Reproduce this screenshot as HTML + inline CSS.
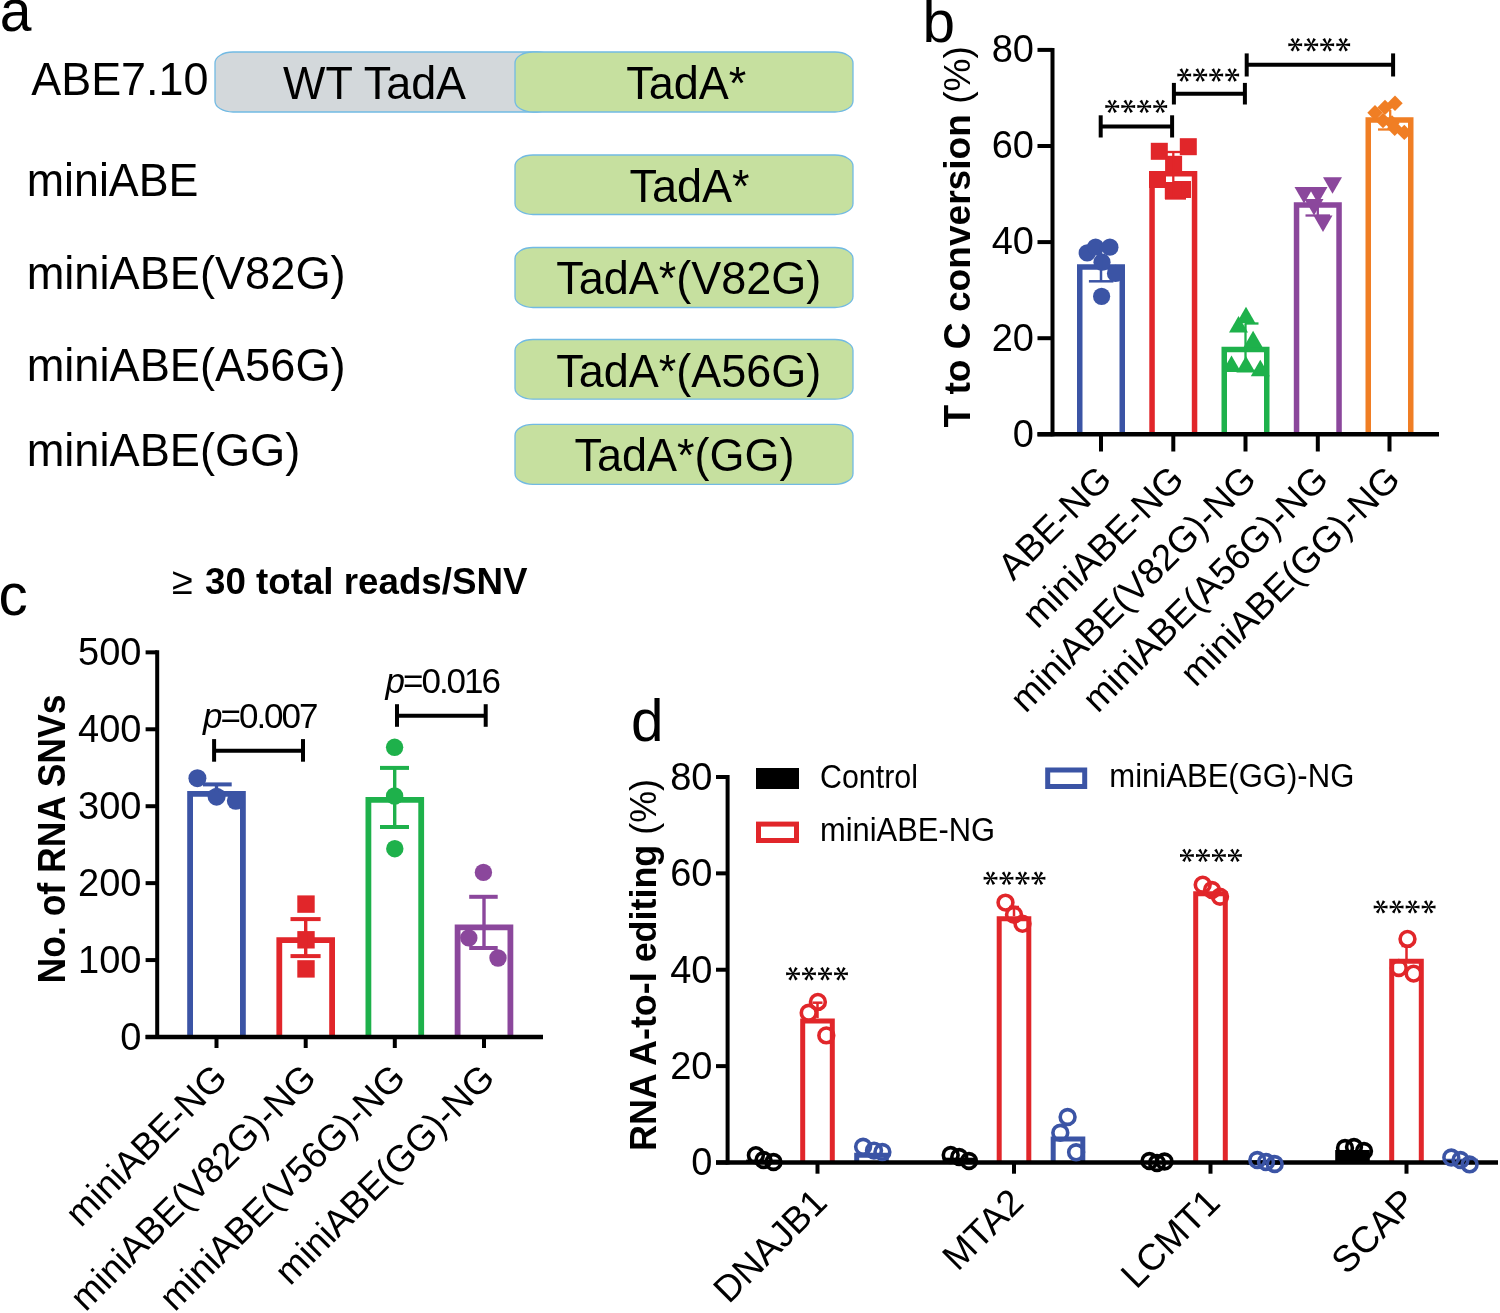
<!DOCTYPE html>
<html><head><meta charset="utf-8"><style>
html,body{margin:0;padding:0;background:#fff;}
svg{display:block;font-family:"Liberation Sans",sans-serif;will-change:transform;}
</style></head><body>
<svg width="1500" height="1313" viewBox="0 0 1500 1313" font-family="Liberation Sans, sans-serif">
<rect width="1500" height="1313" fill="#fff"/>
<text transform="translate(-0.3,31.4) scale(1,1.03)" font-size="57" text-anchor="start" fill="#000">a</text>
<text transform="translate(31.3,95) scale(1,1.05)" font-size="44.9" text-anchor="start" fill="#000">ABE7.10</text>
<rect x="215" y="52" width="340" height="60" fill="#d3d8db" stroke="#72bae3" stroke-width="1.3" rx="18" ry="11"/>
<text transform="translate(283.1,98.7) scale(1,1.02)" font-size="44.9" text-anchor="start" fill="#000">WT TadA</text>
<rect x="515" y="52" width="338" height="60" fill="#c6e09f" stroke="#72bae3" stroke-width="1.3" rx="18" ry="11"/>
<rect x="515" y="155" width="338" height="59.5" fill="#c6e09f" stroke="#72bae3" stroke-width="1.3" rx="18" ry="11"/>
<rect x="515" y="247.5" width="338" height="60" fill="#c6e09f" stroke="#72bae3" stroke-width="1.3" rx="18" ry="11"/>
<rect x="515" y="339.5" width="338" height="59.7" fill="#c6e09f" stroke="#72bae3" stroke-width="1.3" rx="18" ry="11"/>
<rect x="515" y="424.4" width="338" height="60" fill="#c6e09f" stroke="#72bae3" stroke-width="1.3" rx="18" ry="11"/>
<text transform="translate(626.2,98.7) scale(1,1.02)" font-size="45" text-anchor="start" fill="#000">TadA*</text>
<text transform="translate(629.4,201.8) scale(1,1.02)" font-size="45" text-anchor="start" fill="#000">TadA*</text>
<text transform="translate(556.2,294.4) scale(1,1.02)" font-size="45" text-anchor="start" fill="#000">TadA*(V82G)</text>
<text transform="translate(556.2,386.5) scale(1,1.02)" font-size="45" text-anchor="start" fill="#000">TadA*(A56G)</text>
<text transform="translate(574.4,471.1) scale(1,1.02)" font-size="45" text-anchor="start" fill="#000">TadA*(GG)</text>
<text transform="translate(26.688000000000002,196.4) scale(1,1.02)" font-size="44.8" text-anchor="start" fill="#000">miniABE</text>
<text transform="translate(26.662000000000003,288.6) scale(1,1.02)" font-size="45.2" text-anchor="start" fill="#000">miniABE(V82G)</text>
<text transform="translate(26.662000000000003,381.2) scale(1,1.02)" font-size="45.2" text-anchor="start" fill="#000">miniABE(A56G)</text>
<text transform="translate(26.662000000000003,466.2) scale(1,1.02)" font-size="45.2" text-anchor="start" fill="#000">miniABE(GG)</text>
<text x="922.6" y="41.9" font-size="58.5" text-anchor="start" fill="#000" >b</text>
<text x="970" y="236.8" font-size="37.5" text-anchor="middle" font-weight="bold" fill="#000" transform="rotate(-90 970 236.8)" textLength="381.5" lengthAdjust="spacingAndGlyphs">T to C conversion <tspan font-weight="normal">(%)</tspan></text>
<path d="M1079.75,434.30V266.95H1122.25V434.30" fill="none" stroke="#3b54a5" stroke-width="5.5" stroke-linejoin="miter"/>
<path d="M1152.05,434.30V173.74H1194.55V434.30" fill="none" stroke="#e1262a" stroke-width="5.5" stroke-linejoin="miter"/>
<path d="M1224.25,434.30V349.60H1266.75V434.30" fill="none" stroke="#1eb14b" stroke-width="5.5" stroke-linejoin="miter"/>
<path d="M1296.55,434.30V204.97H1339.05V434.30" fill="none" stroke="#8b479c" stroke-width="5.5" stroke-linejoin="miter"/>
<path d="M1368.25,434.30V119.92H1410.75V434.30" fill="none" stroke="#f07e24" stroke-width="5.5" stroke-linejoin="miter"/>
<line x1="1100.7" y1="126.5" x2="1172.1" y2="126.5" stroke="#000" stroke-width="4" stroke-linecap="butt"/>
<line x1="1100.7" y1="115.3" x2="1100.7" y2="137.5" stroke="#000" stroke-width="4" stroke-linecap="butt"/>
<line x1="1172.1" y1="115.3" x2="1172.1" y2="137.5" stroke="#000" stroke-width="4" stroke-linecap="butt"/>
<line x1="1173.9" y1="93.8" x2="1244.9" y2="93.8" stroke="#000" stroke-width="4" stroke-linecap="butt"/>
<line x1="1173.9" y1="82.9" x2="1173.9" y2="104.5" stroke="#000" stroke-width="4" stroke-linecap="butt"/>
<line x1="1244.9" y1="82.9" x2="1244.9" y2="104.5" stroke="#000" stroke-width="4" stroke-linecap="butt"/>
<line x1="1246.7" y1="64.7" x2="1393.1" y2="64.7" stroke="#000" stroke-width="4" stroke-linecap="butt"/>
<line x1="1246.7" y1="53.4" x2="1246.7" y2="76.5" stroke="#000" stroke-width="4" stroke-linecap="butt"/>
<line x1="1393.1" y1="53.4" x2="1393.1" y2="76.5" stroke="#000" stroke-width="4" stroke-linecap="butt"/>
<polygon points="1112.2,106.9 1119.1,107.9 1119.1,104.9 1112.2,106.0" fill="#000"/>
<polygon points="1111.8,106.6 1114.4,113.1 1116.9,111.6 1112.6,106.2" fill="#000"/>
<polygon points="1111.8,106.2 1107.5,111.6 1110.0,113.1 1112.6,106.6" fill="#000"/>
<polygon points="1112.2,106.0 1105.3,104.9 1105.3,107.9 1112.2,106.9" fill="#000"/>
<polygon points="1112.6,106.2 1110.0,99.7 1107.5,101.2 1111.8,106.6" fill="#000"/>
<polygon points="1112.6,106.6 1116.9,101.2 1114.4,99.7 1111.8,106.2" fill="#000"/>
<polygon points="1128.2,106.9 1135.1,107.9 1135.1,104.9 1128.2,106.0" fill="#000"/>
<polygon points="1127.8,106.6 1130.4,113.1 1132.9,111.6 1128.6,106.2" fill="#000"/>
<polygon points="1127.8,106.2 1123.5,111.6 1126.0,113.1 1128.6,106.6" fill="#000"/>
<polygon points="1128.2,106.0 1121.3,104.9 1121.3,107.9 1128.2,106.9" fill="#000"/>
<polygon points="1128.6,106.2 1126.0,99.7 1123.5,101.2 1127.8,106.6" fill="#000"/>
<polygon points="1128.6,106.6 1132.9,101.2 1130.4,99.7 1127.8,106.2" fill="#000"/>
<polygon points="1144.2,106.9 1151.1,107.9 1151.1,104.9 1144.2,106.0" fill="#000"/>
<polygon points="1143.8,106.6 1146.4,113.1 1148.9,111.6 1144.6,106.2" fill="#000"/>
<polygon points="1143.8,106.2 1139.5,111.6 1142.0,113.1 1144.6,106.6" fill="#000"/>
<polygon points="1144.2,106.0 1137.3,104.9 1137.3,107.9 1144.2,106.9" fill="#000"/>
<polygon points="1144.6,106.2 1142.0,99.7 1139.5,101.2 1143.8,106.6" fill="#000"/>
<polygon points="1144.6,106.6 1148.9,101.2 1146.4,99.7 1143.8,106.2" fill="#000"/>
<polygon points="1160.2,106.9 1167.1,107.9 1167.1,104.9 1160.2,106.0" fill="#000"/>
<polygon points="1159.8,106.6 1162.4,113.1 1164.9,111.6 1160.6,106.2" fill="#000"/>
<polygon points="1159.8,106.2 1155.5,111.6 1158.0,113.1 1160.6,106.6" fill="#000"/>
<polygon points="1160.2,106.0 1153.3,104.9 1153.3,107.9 1160.2,106.9" fill="#000"/>
<polygon points="1160.6,106.2 1158.0,99.7 1155.5,101.2 1159.8,106.6" fill="#000"/>
<polygon points="1160.6,106.6 1164.9,101.2 1162.4,99.7 1159.8,106.2" fill="#000"/>
<polygon points="1184.2,75.5 1191.1,76.5 1191.1,73.5 1184.2,74.5" fill="#000"/>
<polygon points="1183.8,75.2 1186.4,81.7 1188.9,80.2 1184.6,74.8" fill="#000"/>
<polygon points="1183.8,74.8 1179.5,80.2 1182.0,81.7 1184.6,75.2" fill="#000"/>
<polygon points="1184.2,74.5 1177.3,73.5 1177.3,76.5 1184.2,75.5" fill="#000"/>
<polygon points="1184.6,74.8 1182.0,68.3 1179.5,69.8 1183.8,75.2" fill="#000"/>
<polygon points="1184.6,75.2 1188.9,69.8 1186.4,68.3 1183.8,74.8" fill="#000"/>
<polygon points="1200.2,75.5 1207.1,76.5 1207.1,73.5 1200.2,74.5" fill="#000"/>
<polygon points="1199.8,75.2 1202.4,81.7 1204.9,80.2 1200.6,74.8" fill="#000"/>
<polygon points="1199.8,74.8 1195.5,80.2 1198.0,81.7 1200.6,75.2" fill="#000"/>
<polygon points="1200.2,74.5 1193.3,73.5 1193.3,76.5 1200.2,75.5" fill="#000"/>
<polygon points="1200.6,74.8 1198.0,68.3 1195.5,69.8 1199.8,75.2" fill="#000"/>
<polygon points="1200.6,75.2 1204.9,69.8 1202.4,68.3 1199.8,74.8" fill="#000"/>
<polygon points="1216.2,75.5 1223.1,76.5 1223.1,73.5 1216.2,74.5" fill="#000"/>
<polygon points="1215.8,75.2 1218.4,81.7 1220.9,80.2 1216.6,74.8" fill="#000"/>
<polygon points="1215.8,74.8 1211.5,80.2 1214.0,81.7 1216.6,75.2" fill="#000"/>
<polygon points="1216.2,74.5 1209.3,73.5 1209.3,76.5 1216.2,75.5" fill="#000"/>
<polygon points="1216.6,74.8 1214.0,68.3 1211.5,69.8 1215.8,75.2" fill="#000"/>
<polygon points="1216.6,75.2 1220.9,69.8 1218.4,68.3 1215.8,74.8" fill="#000"/>
<polygon points="1232.2,75.5 1239.1,76.5 1239.1,73.5 1232.2,74.5" fill="#000"/>
<polygon points="1231.8,75.2 1234.4,81.7 1236.9,80.2 1232.6,74.8" fill="#000"/>
<polygon points="1231.8,74.8 1227.5,80.2 1230.0,81.7 1232.6,75.2" fill="#000"/>
<polygon points="1232.2,74.5 1225.3,73.5 1225.3,76.5 1232.2,75.5" fill="#000"/>
<polygon points="1232.6,74.8 1230.0,68.3 1227.5,69.8 1231.8,75.2" fill="#000"/>
<polygon points="1232.6,75.2 1236.9,69.8 1234.4,68.3 1231.8,74.8" fill="#000"/>
<polygon points="1295.2,45.2 1302.1,46.3 1302.1,43.3 1295.2,44.3" fill="#000"/>
<polygon points="1294.8,45.0 1297.4,51.5 1299.9,50.0 1295.6,44.6" fill="#000"/>
<polygon points="1294.8,44.6 1290.5,50.0 1293.0,51.5 1295.6,45.0" fill="#000"/>
<polygon points="1295.2,44.3 1288.3,43.3 1288.3,46.3 1295.2,45.2" fill="#000"/>
<polygon points="1295.6,44.6 1293.0,38.1 1290.5,39.6 1294.8,45.0" fill="#000"/>
<polygon points="1295.6,45.0 1299.9,39.6 1297.4,38.1 1294.8,44.6" fill="#000"/>
<polygon points="1311.2,45.2 1318.1,46.3 1318.1,43.3 1311.2,44.3" fill="#000"/>
<polygon points="1310.8,45.0 1313.4,51.5 1315.9,50.0 1311.6,44.6" fill="#000"/>
<polygon points="1310.8,44.6 1306.5,50.0 1309.0,51.5 1311.6,45.0" fill="#000"/>
<polygon points="1311.2,44.3 1304.3,43.3 1304.3,46.3 1311.2,45.2" fill="#000"/>
<polygon points="1311.6,44.6 1309.0,38.1 1306.5,39.6 1310.8,45.0" fill="#000"/>
<polygon points="1311.6,45.0 1315.9,39.6 1313.4,38.1 1310.8,44.6" fill="#000"/>
<polygon points="1327.2,45.2 1334.1,46.3 1334.1,43.3 1327.2,44.3" fill="#000"/>
<polygon points="1326.8,45.0 1329.4,51.5 1331.9,50.0 1327.6,44.6" fill="#000"/>
<polygon points="1326.8,44.6 1322.5,50.0 1325.0,51.5 1327.6,45.0" fill="#000"/>
<polygon points="1327.2,44.3 1320.3,43.3 1320.3,46.3 1327.2,45.2" fill="#000"/>
<polygon points="1327.6,44.6 1325.0,38.1 1322.5,39.6 1326.8,45.0" fill="#000"/>
<polygon points="1327.6,45.0 1331.9,39.6 1329.4,38.1 1326.8,44.6" fill="#000"/>
<polygon points="1343.2,45.2 1350.1,46.3 1350.1,43.3 1343.2,44.3" fill="#000"/>
<polygon points="1342.8,45.0 1345.4,51.5 1347.9,50.0 1343.6,44.6" fill="#000"/>
<polygon points="1342.8,44.6 1338.5,50.0 1341.0,51.5 1343.6,45.0" fill="#000"/>
<polygon points="1343.2,44.3 1336.3,43.3 1336.3,46.3 1343.2,45.2" fill="#000"/>
<polygon points="1343.6,44.6 1341.0,38.1 1338.5,39.6 1342.8,45.0" fill="#000"/>
<polygon points="1343.6,45.0 1347.9,39.6 1345.4,38.1 1342.8,44.6" fill="#000"/>
<circle cx="1087.2" cy="252.9" r="8.6" fill="#3b54a5" stroke="none" stroke-width="0"/>
<circle cx="1095.6" cy="247" r="8.6" fill="#3b54a5" stroke="none" stroke-width="0"/>
<circle cx="1109.9" cy="247.2" r="8.6" fill="#3b54a5" stroke="none" stroke-width="0"/>
<circle cx="1102" cy="262.2" r="8.6" fill="#3b54a5" stroke="none" stroke-width="0"/>
<circle cx="1115.5" cy="273.4" r="8.6" fill="#3b54a5" stroke="none" stroke-width="0"/>
<circle cx="1101.6" cy="296.3" r="8.6" fill="#3b54a5" stroke="none" stroke-width="0"/>
<line x1="1101" y1="247" x2="1101" y2="281.3" stroke="#3b54a5" stroke-width="2.5" stroke-linecap="butt"/>
<line x1="1088.9" y1="281.3" x2="1113.4" y2="281.3" stroke="#3b54a5" stroke-width="2.5" stroke-linecap="butt"/>
<rect x="1150.8" y="142.8" width="17" height="17" fill="#e1262a" stroke="none" stroke-width="0" rx="0" ry="0"/>
<rect x="1179.8" y="138.2" width="17" height="17" fill="#e1262a" stroke="none" stroke-width="0" rx="0" ry="0"/>
<rect x="1165.1" y="155.8" width="17" height="17" fill="#e1262a" stroke="none" stroke-width="0" rx="0" ry="0"/>
<rect x="1149.0" y="171.0" width="17" height="17" fill="#e1262a" stroke="none" stroke-width="0" rx="0" ry="0"/>
<rect x="1174.0" y="181.0" width="17" height="17" fill="#e1262a" stroke="none" stroke-width="0" rx="0" ry="0"/>
<rect x="1164.8" y="182.0" width="17" height="17" fill="#e1262a" stroke="none" stroke-width="0" rx="0" ry="0"/>
<line x1="1173.3" y1="152" x2="1173.3" y2="198" stroke="#e1262a" stroke-width="2.3" stroke-linecap="butt"/>
<line x1="1161" y1="152" x2="1186" y2="152" stroke="#e1262a" stroke-width="2.3" stroke-linecap="butt"/>
<line x1="1165" y1="198.5" x2="1186" y2="198.5" stroke="#e1262a" stroke-width="2.3" stroke-linecap="butt"/>
<line x1="1245.5" y1="323.5" x2="1245.5" y2="371" stroke="#1eb14b" stroke-width="2.3" stroke-linecap="butt"/>
<polygon points="1246.0,306.7 1236.5,323.2 1255.5,323.2" fill="#1eb14b"/>
<polygon points="1238.5,316.0 1229.0,332.5 1248.0,332.5" fill="#1eb14b"/>
<polygon points="1253.1,330.7 1243.6,347.2 1262.6,347.2" fill="#1eb14b"/>
<polygon points="1231.5,355.4 1222.0,371.9 1241.0,371.9" fill="#1eb14b"/>
<polygon points="1245.9,356.0 1236.4,372.5 1255.4,372.5" fill="#1eb14b"/>
<polygon points="1260.3,359.8 1250.8,376.3 1269.8,376.3" fill="#1eb14b"/>
<line x1="1245" y1="323.5" x2="1258.5" y2="323.5" stroke="#1eb14b" stroke-width="2.3" stroke-linecap="butt"/>
<line x1="1229" y1="370.8" x2="1262" y2="370.8" stroke="#1eb14b" stroke-width="2.3" stroke-linecap="butt"/>
<line x1="1317.8" y1="188" x2="1317.8" y2="215.5" stroke="#8b479c" stroke-width="2.3" stroke-linecap="butt"/>
<line x1="1305.5" y1="215.5" x2="1330" y2="215.5" stroke="#8b479c" stroke-width="2.3" stroke-linecap="butt"/>
<polygon points="1332.5,193.7 1323.0,177.2 1342.0,177.2" fill="#8b479c"/>
<polygon points="1304.0,203.5 1294.5,187.0 1313.5,187.0" fill="#8b479c"/>
<polygon points="1318.0,203.5 1308.5,187.0 1327.5,187.0" fill="#8b479c"/>
<polygon points="1314.0,215.5 1304.5,199.0 1323.5,199.0" fill="#8b479c"/>
<polygon points="1323.0,232.0 1313.5,215.5 1332.5,215.5" fill="#8b479c"/>
<line x1="1390.2" y1="110" x2="1390.2" y2="129.5" stroke="#f07e24" stroke-width="2.3" stroke-linecap="butt"/>
<line x1="1378" y1="129.5" x2="1402" y2="129.5" stroke="#f07e24" stroke-width="2.3" stroke-linecap="butt"/>
<polygon points="1395.0,95.5 1402.7,103.2 1395.0,110.9 1387.3,103.2" fill="#f07e24"/>
<polygon points="1385.0,99.7 1392.7,107.4 1385.0,115.1 1377.3,107.4" fill="#f07e24"/>
<polygon points="1375.0,105.1 1382.7,112.8 1375.0,120.5 1367.3,112.8" fill="#f07e24"/>
<polygon points="1383.0,112.8 1390.7,120.5 1383.0,128.2 1375.3,120.5" fill="#f07e24"/>
<polygon points="1392.0,115.3 1399.7,123.0 1392.0,130.7 1384.3,123.0" fill="#f07e24"/>
<polygon points="1394.7,120.6 1402.4,128.3 1394.7,136.0 1387.0,128.3" fill="#f07e24"/>
<polygon points="1404.3,124.7 1412.0,132.4 1404.3,140.1 1396.6,132.4" fill="#f07e24"/>
<line x1="1052.5" y1="47.900000000000034" x2="1052.5" y2="436.3" stroke="#000" stroke-width="4" stroke-linecap="butt"/>
<line x1="1037.5" y1="434.3" x2="1052.5" y2="434.3" stroke="#000" stroke-width="4" stroke-linecap="butt"/>
<text x="1034" y="446.6" font-size="38" text-anchor="end" fill="#000" >0</text>
<line x1="1037.5" y1="338.20000000000005" x2="1052.5" y2="338.20000000000005" stroke="#000" stroke-width="4" stroke-linecap="butt"/>
<text x="1034" y="350.50000000000006" font-size="38" text-anchor="end" fill="#000" >20</text>
<line x1="1037.5" y1="242.10000000000002" x2="1052.5" y2="242.10000000000002" stroke="#000" stroke-width="4" stroke-linecap="butt"/>
<text x="1034" y="254.40000000000003" font-size="38" text-anchor="end" fill="#000" >40</text>
<line x1="1037.5" y1="146.00000000000006" x2="1052.5" y2="146.00000000000006" stroke="#000" stroke-width="4" stroke-linecap="butt"/>
<text x="1034" y="158.30000000000007" font-size="38" text-anchor="end" fill="#000" >60</text>
<line x1="1037.5" y1="49.900000000000034" x2="1052.5" y2="49.900000000000034" stroke="#000" stroke-width="4" stroke-linecap="butt"/>
<text x="1034" y="62.20000000000003" font-size="38" text-anchor="end" fill="#000" >80</text>
<line x1="1037.5" y1="434.3" x2="1439" y2="434.3" stroke="#000" stroke-width="4.5" stroke-linecap="butt"/>
<line x1="1101" y1="434.3" x2="1101" y2="451.5" stroke="#000" stroke-width="4" stroke-linecap="butt"/>
<line x1="1173.3" y1="434.3" x2="1173.3" y2="451.5" stroke="#000" stroke-width="4" stroke-linecap="butt"/>
<line x1="1245.5" y1="434.3" x2="1245.5" y2="451.5" stroke="#000" stroke-width="4" stroke-linecap="butt"/>
<line x1="1317.8" y1="434.3" x2="1317.8" y2="451.5" stroke="#000" stroke-width="4" stroke-linecap="butt"/>
<line x1="1389.5" y1="434.3" x2="1389.5" y2="451.5" stroke="#000" stroke-width="4" stroke-linecap="butt"/>
<text x="1113.5" y="481.5" font-size="37" text-anchor="end" fill="#000" transform="rotate(-45 1113.5 481.5)">ABE-NG</text>
<text x="1185.8" y="481.5" font-size="37" text-anchor="end" fill="#000" transform="rotate(-45 1185.8 481.5)">miniABE-NG</text>
<text x="1258.0" y="481.5" font-size="37" text-anchor="end" fill="#000" transform="rotate(-45 1258.0 481.5)">miniABE(V82G)-NG</text>
<text x="1330.3" y="481.5" font-size="37" text-anchor="end" fill="#000" transform="rotate(-45 1330.3 481.5)">miniABE(A56G)-NG</text>
<text x="1402.0" y="481.5" font-size="37" text-anchor="end" fill="#000" transform="rotate(-45 1402.0 481.5)">miniABE(GG)-NG</text>
<text x="-1.5" y="614.6" font-size="58.5" text-anchor="start" fill="#000" >c</text>
<text x="172" y="594.3" font-size="38" text-anchor="start" fill="#000" font-weight="normal">≥</text>
<text x="205" y="594.3" font-size="37.5" text-anchor="start" font-weight="bold" fill="#000" textLength="322.5" lengthAdjust="spacingAndGlyphs">30 total reads/SNV</text>
<text x="65" y="839" font-size="38" text-anchor="middle" font-weight="bold" fill="#000" transform="rotate(-90 65 839)" textLength="289" lengthAdjust="spacingAndGlyphs">No. of RNA SNVs</text>
<path d="M190.10,1037.00V793.80H242.90V1037.00" fill="none" stroke="#3b54a5" stroke-width="5.8" stroke-linejoin="miter"/>
<path d="M279.30,1037.00V940.10H332.10V1037.00" fill="none" stroke="#e1262a" stroke-width="5.8" stroke-linejoin="miter"/>
<path d="M368.40,1037.00V799.90H421.20V1037.00" fill="none" stroke="#1eb14b" stroke-width="5.8" stroke-linejoin="miter"/>
<path d="M457.60,1037.00V927.40H510.40V1037.00" fill="none" stroke="#8b479c" stroke-width="5.8" stroke-linejoin="miter"/>
<circle cx="197.4" cy="778.2" r="9" fill="#3b54a5" stroke="none" stroke-width="0"/>
<circle cx="216.6" cy="796.7" r="9" fill="#3b54a5" stroke="none" stroke-width="0"/>
<circle cx="235.8" cy="800.8" r="9" fill="#3b54a5" stroke="none" stroke-width="0"/>
<line x1="216.5" y1="784.4" x2="216.5" y2="792" stroke="#3b54a5" stroke-width="3.4" stroke-linecap="butt"/>
<line x1="203" y1="784.4" x2="231.7" y2="784.4" stroke="#3b54a5" stroke-width="4" stroke-linecap="butt"/>
<rect x="297.3" y="895.4" width="17.4" height="17.4" fill="#e1262a" stroke="none" stroke-width="0" rx="0" ry="0"/>
<rect x="297.3" y="931.0999999999999" width="17.4" height="17.4" fill="#e1262a" stroke="none" stroke-width="0" rx="0" ry="0"/>
<rect x="297.3" y="960.1999999999999" width="17.4" height="17.4" fill="#e1262a" stroke="none" stroke-width="0" rx="0" ry="0"/>
<line x1="305.7" y1="919.1" x2="305.7" y2="956.1" stroke="#e1262a" stroke-width="3.4" stroke-linecap="butt"/>
<line x1="290.5" y1="919.1" x2="320.6" y2="919.1" stroke="#e1262a" stroke-width="4" stroke-linecap="butt"/>
<line x1="290.5" y1="956.1" x2="320.6" y2="956.1" stroke="#e1262a" stroke-width="4" stroke-linecap="butt"/>
<circle cx="394.6" cy="747.3" r="8.7" fill="#1eb14b" stroke="none" stroke-width="0"/>
<circle cx="394.6" cy="796" r="8.7" fill="#1eb14b" stroke="none" stroke-width="0"/>
<circle cx="394.8" cy="848.7" r="8.7" fill="#1eb14b" stroke="none" stroke-width="0"/>
<line x1="394.7" y1="767.9" x2="394.7" y2="827" stroke="#1eb14b" stroke-width="3.4" stroke-linecap="butt"/>
<line x1="380" y1="767.9" x2="409" y2="767.9" stroke="#1eb14b" stroke-width="4" stroke-linecap="butt"/>
<line x1="380" y1="827" x2="409" y2="827" stroke="#1eb14b" stroke-width="4" stroke-linecap="butt"/>
<circle cx="483.4" cy="872.4" r="8.7" fill="#8b479c" stroke="none" stroke-width="0"/>
<circle cx="468.8" cy="937.9" r="8.7" fill="#8b479c" stroke="none" stroke-width="0"/>
<circle cx="498" cy="958" r="8.7" fill="#8b479c" stroke="none" stroke-width="0"/>
<line x1="484" y1="896.8" x2="484" y2="948" stroke="#8b479c" stroke-width="3.4" stroke-linecap="butt"/>
<line x1="469.2" y1="896.8" x2="497.7" y2="896.8" stroke="#8b479c" stroke-width="4" stroke-linecap="butt"/>
<line x1="469.2" y1="948" x2="497.7" y2="948" stroke="#8b479c" stroke-width="4" stroke-linecap="butt"/>
<line x1="157.2" y1="650.35" x2="157.2" y2="1039" stroke="#000" stroke-width="4" stroke-linecap="butt"/>
<line x1="145.6" y1="1037.0" x2="157.2" y2="1037.0" stroke="#000" stroke-width="4" stroke-linecap="butt"/>
<text x="141.5" y="1049.6" font-size="38" text-anchor="end" fill="#000" >0</text>
<line x1="145.6" y1="960.07" x2="157.2" y2="960.07" stroke="#000" stroke-width="4" stroke-linecap="butt"/>
<text x="141.5" y="972.6700000000001" font-size="38" text-anchor="end" fill="#000" >100</text>
<line x1="145.6" y1="883.14" x2="157.2" y2="883.14" stroke="#000" stroke-width="4" stroke-linecap="butt"/>
<text x="141.5" y="895.74" font-size="38" text-anchor="end" fill="#000" >200</text>
<line x1="145.6" y1="806.21" x2="157.2" y2="806.21" stroke="#000" stroke-width="4" stroke-linecap="butt"/>
<text x="141.5" y="818.8100000000001" font-size="38" text-anchor="end" fill="#000" >300</text>
<line x1="145.6" y1="729.28" x2="157.2" y2="729.28" stroke="#000" stroke-width="4" stroke-linecap="butt"/>
<text x="141.5" y="741.88" font-size="38" text-anchor="end" fill="#000" >400</text>
<line x1="145.6" y1="652.35" x2="157.2" y2="652.35" stroke="#000" stroke-width="4" stroke-linecap="butt"/>
<text x="141.5" y="664.95" font-size="38" text-anchor="end" fill="#000" >500</text>
<line x1="145.6" y1="1037" x2="543" y2="1037" stroke="#000" stroke-width="4.5" stroke-linecap="butt"/>
<line x1="216.5" y1="1037" x2="216.5" y2="1048" stroke="#000" stroke-width="4" stroke-linecap="butt"/>
<line x1="305.7" y1="1037" x2="305.7" y2="1048" stroke="#000" stroke-width="4" stroke-linecap="butt"/>
<line x1="394.8" y1="1037" x2="394.8" y2="1048" stroke="#000" stroke-width="4" stroke-linecap="butt"/>
<line x1="484" y1="1037" x2="484" y2="1048" stroke="#000" stroke-width="4" stroke-linecap="butt"/>
<line x1="214.1" y1="750.8" x2="303" y2="750.8" stroke="#000" stroke-width="4" stroke-linecap="butt"/>
<line x1="214.1" y1="739.1" x2="214.1" y2="761.7" stroke="#000" stroke-width="4" stroke-linecap="butt"/>
<line x1="303" y1="739.1" x2="303" y2="761.7" stroke="#000" stroke-width="4" stroke-linecap="butt"/>
<line x1="397" y1="715.8" x2="485.7" y2="715.8" stroke="#000" stroke-width="4" stroke-linecap="butt"/>
<line x1="397" y1="704.2" x2="397" y2="726.8" stroke="#000" stroke-width="4" stroke-linecap="butt"/>
<line x1="485.7" y1="704.2" x2="485.7" y2="726.8" stroke="#000" stroke-width="4" stroke-linecap="butt"/>
<text x="203" y="728.4" font-size="35" fill="#000" textLength="115.5" lengthAdjust="spacing"><tspan font-style="italic">p</tspan>=0.007</text>
<text x="385.5" y="692.5" font-size="35" fill="#000" textLength="115.5" lengthAdjust="spacing"><tspan font-style="italic">p</tspan>=0.016</text>
<text x="229.0" y="1080" font-size="37" text-anchor="end" fill="#000" transform="rotate(-45 229.0 1080)">miniABE-NG</text>
<text x="318.2" y="1080" font-size="37" text-anchor="end" fill="#000" transform="rotate(-45 318.2 1080)">miniABE(V82G)-NG</text>
<text x="407.3" y="1080" font-size="37" text-anchor="end" fill="#000" transform="rotate(-45 407.3 1080)">miniABE(V56G)-NG</text>
<text x="496.5" y="1080" font-size="37" text-anchor="end" fill="#000" transform="rotate(-45 496.5 1080)">miniABE(GG)-NG</text>
<text x="631.1" y="740.6" font-size="58.5" text-anchor="start" fill="#000" >d</text>
<text x="656.4" y="965" font-size="37.5" text-anchor="middle" font-weight="bold" fill="#000" transform="rotate(-90 656.4 965)" textLength="372" lengthAdjust="spacingAndGlyphs">RNA A-to-I editing <tspan font-weight="normal">(%)</tspan></text>
<rect x="756" y="768" width="43" height="21" fill="#000" stroke="none" stroke-width="0" rx="0" ry="0"/>
<text x="820" y="788" font-size="33.5" text-anchor="start" fill="#000" textLength="98" lengthAdjust="spacingAndGlyphs">Control</text>
<rect x="758.5" y="824.1" width="38" height="16.4" fill="none" stroke="#e1262a" stroke-width="5" rx="0" ry="0"/>
<text x="820" y="841" font-size="33.5" text-anchor="start" fill="#000" textLength="175" lengthAdjust="spacingAndGlyphs">miniABE-NG</text>
<rect x="1047.7" y="770" width="37" height="16.5" fill="none" stroke="#3b54a5" stroke-width="5" rx="0" ry="0"/>
<text x="1109.3" y="786.7" font-size="33.5" text-anchor="start" fill="#000" textLength="245" lengthAdjust="spacingAndGlyphs">miniABE(GG)-NG</text>
<rect x="746.2" y="1159.6086" width="34.6" height="2.8914" fill="#000" stroke="none" stroke-width="0" rx="0" ry="0"/>
<path d="M802.70,1162.50V1020.91H832.30V1162.50" fill="none" stroke="#e1262a" stroke-width="5" stroke-linejoin="miter"/>
<path d="M856.70,1162.50V1155.36H886.30V1162.50" fill="none" stroke="#3b54a5" stroke-width="5" stroke-linejoin="miter"/>
<rect x="942.7" y="1157.681" width="34.6" height="4.819" fill="#000" stroke="none" stroke-width="0" rx="0" ry="0"/>
<path d="M999.20,1162.50V918.75H1028.80V1162.50" fill="none" stroke="#e1262a" stroke-width="5" stroke-linejoin="miter"/>
<path d="M1053.20,1162.50V1138.98H1082.80V1162.50" fill="none" stroke="#3b54a5" stroke-width="5" stroke-linejoin="miter"/>
<rect x="1139.2" y="1161.5362" width="34.6" height="0.9638" fill="#000" stroke="none" stroke-width="0" rx="0" ry="0"/>
<path d="M1195.70,1162.50V893.69H1225.30V1162.50" fill="none" stroke="#e1262a" stroke-width="5" stroke-linejoin="miter"/>
<path d="M1249.70,1162.50V1162.59H1279.30V1162.50" fill="none" stroke="#3b54a5" stroke-width="5" stroke-linejoin="miter"/>
<rect x="1335.2" y="1149.9706" width="34.6" height="12.5294" fill="#000" stroke="none" stroke-width="0" rx="0" ry="0"/>
<path d="M1391.70,1162.50V961.16H1421.30V1162.50" fill="none" stroke="#e1262a" stroke-width="5" stroke-linejoin="miter"/>
<path d="M1445.70,1162.50V1161.14H1475.30V1162.50" fill="none" stroke="#3b54a5" stroke-width="5" stroke-linejoin="miter"/>
<line x1="727.6" y1="774.98" x2="727.6" y2="1164.5" stroke="#000" stroke-width="4" stroke-linecap="butt"/>
<line x1="716" y1="1162.5" x2="727.6" y2="1162.5" stroke="#000" stroke-width="4" stroke-linecap="butt"/>
<text x="712.5" y="1175.3" font-size="38" text-anchor="end" fill="#000" >0</text>
<line x1="716" y1="1066.12" x2="727.6" y2="1066.12" stroke="#000" stroke-width="4" stroke-linecap="butt"/>
<text x="712.5" y="1078.9199999999998" font-size="38" text-anchor="end" fill="#000" >20</text>
<line x1="716" y1="969.74" x2="727.6" y2="969.74" stroke="#000" stroke-width="4" stroke-linecap="butt"/>
<text x="712.5" y="982.54" font-size="38" text-anchor="end" fill="#000" >40</text>
<line x1="716" y1="873.36" x2="727.6" y2="873.36" stroke="#000" stroke-width="4" stroke-linecap="butt"/>
<text x="712.5" y="886.16" font-size="38" text-anchor="end" fill="#000" >60</text>
<line x1="716" y1="776.98" x2="727.6" y2="776.98" stroke="#000" stroke-width="4" stroke-linecap="butt"/>
<text x="712.5" y="789.78" font-size="38" text-anchor="end" fill="#000" >80</text>
<line x1="716" y1="1162.5" x2="1498" y2="1162.5" stroke="#000" stroke-width="4.5" stroke-linecap="butt"/>
<line x1="817.5" y1="1162.5" x2="817.5" y2="1173.7" stroke="#000" stroke-width="4" stroke-linecap="butt"/>
<line x1="1014" y1="1162.5" x2="1014" y2="1173.7" stroke="#000" stroke-width="4" stroke-linecap="butt"/>
<line x1="1210.5" y1="1162.5" x2="1210.5" y2="1173.7" stroke="#000" stroke-width="4" stroke-linecap="butt"/>
<line x1="1406.5" y1="1162.5" x2="1406.5" y2="1173.7" stroke="#000" stroke-width="4" stroke-linecap="butt"/>
<circle cx="755.9" cy="1155.2" r="7.4" fill="none" stroke="#000" stroke-width="3.6"/>
<circle cx="763.5" cy="1160" r="7.4" fill="none" stroke="#000" stroke-width="3.6"/>
<circle cx="773.5" cy="1162" r="7.4" fill="none" stroke="#000" stroke-width="3.6"/>
<circle cx="950.7" cy="1155" r="7.4" fill="none" stroke="#000" stroke-width="3.6"/>
<circle cx="959.2" cy="1157" r="7.4" fill="none" stroke="#000" stroke-width="3.6"/>
<circle cx="969" cy="1161" r="7.4" fill="none" stroke="#000" stroke-width="3.6"/>
<circle cx="1149.5" cy="1161" r="7.4" fill="none" stroke="#000" stroke-width="3.6"/>
<circle cx="1157" cy="1163" r="7.4" fill="none" stroke="#000" stroke-width="3.6"/>
<circle cx="1164.5" cy="1161.5" r="7.4" fill="none" stroke="#000" stroke-width="3.6"/>
<circle cx="1345" cy="1148" r="7.4" fill="none" stroke="#000" stroke-width="3.6"/>
<circle cx="1354" cy="1147" r="7.4" fill="none" stroke="#000" stroke-width="3.6"/>
<circle cx="1364" cy="1151" r="7.4" fill="none" stroke="#000" stroke-width="3.6"/>
<circle cx="817.9" cy="1001.9" r="7.4" fill="none" stroke="#e1262a" stroke-width="3.6"/>
<circle cx="808.7" cy="1012.8" r="7.4" fill="none" stroke="#e1262a" stroke-width="3.6"/>
<circle cx="826.3" cy="1035.4" r="7.4" fill="none" stroke="#e1262a" stroke-width="3.6"/>
<circle cx="1005.5" cy="902.6" r="7.4" fill="none" stroke="#e1262a" stroke-width="3.6"/>
<circle cx="1014" cy="914.8" r="7.4" fill="none" stroke="#e1262a" stroke-width="3.6"/>
<circle cx="1022.5" cy="923.8" r="7.4" fill="none" stroke="#e1262a" stroke-width="3.6"/>
<circle cx="1202.7" cy="884.7" r="7.4" fill="none" stroke="#e1262a" stroke-width="3.6"/>
<circle cx="1212" cy="890" r="7.4" fill="none" stroke="#e1262a" stroke-width="3.6"/>
<circle cx="1220" cy="896.7" r="7.4" fill="none" stroke="#e1262a" stroke-width="3.6"/>
<circle cx="1407.5" cy="938.9" r="7.4" fill="none" stroke="#e1262a" stroke-width="3.6"/>
<circle cx="1398.8" cy="968" r="7.4" fill="none" stroke="#e1262a" stroke-width="3.6"/>
<circle cx="1413.6" cy="973.6" r="7.4" fill="none" stroke="#e1262a" stroke-width="3.6"/>
<circle cx="863.1" cy="1146.8" r="7.4" fill="none" stroke="#3b54a5" stroke-width="3.6"/>
<circle cx="874" cy="1150.6" r="7.4" fill="none" stroke="#3b54a5" stroke-width="3.6"/>
<circle cx="882.4" cy="1152" r="7.4" fill="none" stroke="#3b54a5" stroke-width="3.6"/>
<circle cx="1067.6" cy="1117" r="7.4" fill="none" stroke="#3b54a5" stroke-width="3.6"/>
<circle cx="1060.3" cy="1132.8" r="7.4" fill="none" stroke="#3b54a5" stroke-width="3.6"/>
<circle cx="1076.1" cy="1152.3" r="7.4" fill="none" stroke="#3b54a5" stroke-width="3.6"/>
<circle cx="1257.3" cy="1160" r="7.4" fill="none" stroke="#3b54a5" stroke-width="3.6"/>
<circle cx="1266" cy="1162" r="7.4" fill="none" stroke="#3b54a5" stroke-width="3.6"/>
<circle cx="1274.7" cy="1164" r="7.4" fill="none" stroke="#3b54a5" stroke-width="3.6"/>
<circle cx="1451.3" cy="1157.5" r="7.4" fill="none" stroke="#3b54a5" stroke-width="3.6"/>
<circle cx="1460.5" cy="1160" r="7.4" fill="none" stroke="#3b54a5" stroke-width="3.6"/>
<circle cx="1469.6" cy="1164.4" r="7.4" fill="none" stroke="#3b54a5" stroke-width="3.6"/>
<line x1="817.5" y1="1002.7" x2="817.5" y2="1018" stroke="#e1262a" stroke-width="2.5" stroke-linecap="butt"/>
<line x1="812.5" y1="1002.7" x2="822.5" y2="1002.7" stroke="#e1262a" stroke-width="2.5" stroke-linecap="butt"/>
<line x1="1014" y1="907" x2="1014" y2="916" stroke="#e1262a" stroke-width="2.5" stroke-linecap="butt"/>
<line x1="1009" y1="907" x2="1019" y2="907" stroke="#e1262a" stroke-width="2.5" stroke-linecap="butt"/>
<line x1="1406.5" y1="946" x2="1406.5" y2="959" stroke="#e1262a" stroke-width="2.5" stroke-linecap="butt"/>
<line x1="1401.5" y1="946" x2="1411.5" y2="946" stroke="#e1262a" stroke-width="2.5" stroke-linecap="butt"/>
<polygon points="793.0,974.2 799.9,975.3 799.9,972.3 793.0,973.3" fill="#000"/>
<polygon points="792.6,974.0 795.2,980.5 797.7,979.0 793.4,973.6" fill="#000"/>
<polygon points="792.6,973.6 788.3,979.0 790.8,980.5 793.4,974.0" fill="#000"/>
<polygon points="793.0,973.3 786.1,972.3 786.1,975.3 793.0,974.2" fill="#000"/>
<polygon points="793.4,973.6 790.8,967.1 788.3,968.6 792.6,974.0" fill="#000"/>
<polygon points="793.4,974.0 797.7,968.6 795.2,967.1 792.6,973.6" fill="#000"/>
<polygon points="809.0,974.2 815.9,975.3 815.9,972.3 809.0,973.3" fill="#000"/>
<polygon points="808.6,974.0 811.2,980.5 813.7,979.0 809.4,973.6" fill="#000"/>
<polygon points="808.6,973.6 804.3,979.0 806.8,980.5 809.4,974.0" fill="#000"/>
<polygon points="809.0,973.3 802.1,972.3 802.1,975.3 809.0,974.2" fill="#000"/>
<polygon points="809.4,973.6 806.8,967.1 804.3,968.6 808.6,974.0" fill="#000"/>
<polygon points="809.4,974.0 813.7,968.6 811.2,967.1 808.6,973.6" fill="#000"/>
<polygon points="825.0,974.2 831.9,975.3 831.9,972.3 825.0,973.3" fill="#000"/>
<polygon points="824.6,974.0 827.2,980.5 829.7,979.0 825.4,973.6" fill="#000"/>
<polygon points="824.6,973.6 820.3,979.0 822.8,980.5 825.4,974.0" fill="#000"/>
<polygon points="825.0,973.3 818.1,972.3 818.1,975.3 825.0,974.2" fill="#000"/>
<polygon points="825.4,973.6 822.8,967.1 820.3,968.6 824.6,974.0" fill="#000"/>
<polygon points="825.4,974.0 829.7,968.6 827.2,967.1 824.6,973.6" fill="#000"/>
<polygon points="841.0,974.2 847.9,975.3 847.9,972.3 841.0,973.3" fill="#000"/>
<polygon points="840.6,974.0 843.2,980.5 845.7,979.0 841.4,973.6" fill="#000"/>
<polygon points="840.6,973.6 836.3,979.0 838.8,980.5 841.4,974.0" fill="#000"/>
<polygon points="841.0,973.3 834.1,972.3 834.1,975.3 841.0,974.2" fill="#000"/>
<polygon points="841.4,973.6 838.8,967.1 836.3,968.6 840.6,974.0" fill="#000"/>
<polygon points="841.4,974.0 845.7,968.6 843.2,967.1 840.6,973.6" fill="#000"/>
<polygon points="990.5,878.8 997.4,879.8 997.4,876.8 990.5,877.8" fill="#000"/>
<polygon points="990.1,878.5 992.7,885.0 995.2,883.5 990.9,878.1" fill="#000"/>
<polygon points="990.1,878.1 985.8,883.5 988.3,885.0 990.9,878.5" fill="#000"/>
<polygon points="990.5,877.8 983.6,876.8 983.6,879.8 990.5,878.8" fill="#000"/>
<polygon points="990.9,878.1 988.3,871.6 985.8,873.1 990.1,878.5" fill="#000"/>
<polygon points="990.9,878.5 995.2,873.1 992.7,871.6 990.1,878.1" fill="#000"/>
<polygon points="1006.5,878.8 1013.4,879.8 1013.4,876.8 1006.5,877.8" fill="#000"/>
<polygon points="1006.1,878.5 1008.7,885.0 1011.2,883.5 1006.9,878.1" fill="#000"/>
<polygon points="1006.1,878.1 1001.8,883.5 1004.3,885.0 1006.9,878.5" fill="#000"/>
<polygon points="1006.5,877.8 999.6,876.8 999.6,879.8 1006.5,878.8" fill="#000"/>
<polygon points="1006.9,878.1 1004.3,871.6 1001.8,873.1 1006.1,878.5" fill="#000"/>
<polygon points="1006.9,878.5 1011.2,873.1 1008.7,871.6 1006.1,878.1" fill="#000"/>
<polygon points="1022.5,878.8 1029.4,879.8 1029.4,876.8 1022.5,877.8" fill="#000"/>
<polygon points="1022.1,878.5 1024.7,885.0 1027.2,883.5 1022.9,878.1" fill="#000"/>
<polygon points="1022.1,878.1 1017.8,883.5 1020.3,885.0 1022.9,878.5" fill="#000"/>
<polygon points="1022.5,877.8 1015.6,876.8 1015.6,879.8 1022.5,878.8" fill="#000"/>
<polygon points="1022.9,878.1 1020.3,871.6 1017.8,873.1 1022.1,878.5" fill="#000"/>
<polygon points="1022.9,878.5 1027.2,873.1 1024.7,871.6 1022.1,878.1" fill="#000"/>
<polygon points="1038.5,878.8 1045.4,879.8 1045.4,876.8 1038.5,877.8" fill="#000"/>
<polygon points="1038.1,878.5 1040.7,885.0 1043.2,883.5 1038.9,878.1" fill="#000"/>
<polygon points="1038.1,878.1 1033.8,883.5 1036.3,885.0 1038.9,878.5" fill="#000"/>
<polygon points="1038.5,877.8 1031.6,876.8 1031.6,879.8 1038.5,878.8" fill="#000"/>
<polygon points="1038.9,878.1 1036.3,871.6 1033.8,873.1 1038.1,878.5" fill="#000"/>
<polygon points="1038.9,878.5 1043.2,873.1 1040.7,871.6 1038.1,878.1" fill="#000"/>
<polygon points="1186.9,855.9 1193.8,856.9 1193.8,853.9 1186.9,854.9" fill="#000"/>
<polygon points="1186.5,855.6 1189.1,862.1 1191.6,860.6 1187.3,855.2" fill="#000"/>
<polygon points="1186.5,855.2 1182.2,860.6 1184.7,862.1 1187.3,855.6" fill="#000"/>
<polygon points="1186.9,854.9 1180.0,853.9 1180.0,856.9 1186.9,855.9" fill="#000"/>
<polygon points="1187.3,855.2 1184.7,848.7 1182.2,850.2 1186.5,855.6" fill="#000"/>
<polygon points="1187.3,855.6 1191.6,850.2 1189.1,848.7 1186.5,855.2" fill="#000"/>
<polygon points="1202.9,855.9 1209.8,856.9 1209.8,853.9 1202.9,854.9" fill="#000"/>
<polygon points="1202.5,855.6 1205.1,862.1 1207.6,860.6 1203.3,855.2" fill="#000"/>
<polygon points="1202.5,855.2 1198.2,860.6 1200.7,862.1 1203.3,855.6" fill="#000"/>
<polygon points="1202.9,854.9 1196.0,853.9 1196.0,856.9 1202.9,855.9" fill="#000"/>
<polygon points="1203.3,855.2 1200.7,848.7 1198.2,850.2 1202.5,855.6" fill="#000"/>
<polygon points="1203.3,855.6 1207.6,850.2 1205.1,848.7 1202.5,855.2" fill="#000"/>
<polygon points="1218.9,855.9 1225.8,856.9 1225.8,853.9 1218.9,854.9" fill="#000"/>
<polygon points="1218.5,855.6 1221.1,862.1 1223.6,860.6 1219.3,855.2" fill="#000"/>
<polygon points="1218.5,855.2 1214.2,860.6 1216.7,862.1 1219.3,855.6" fill="#000"/>
<polygon points="1218.9,854.9 1212.0,853.9 1212.0,856.9 1218.9,855.9" fill="#000"/>
<polygon points="1219.3,855.2 1216.7,848.7 1214.2,850.2 1218.5,855.6" fill="#000"/>
<polygon points="1219.3,855.6 1223.6,850.2 1221.1,848.7 1218.5,855.2" fill="#000"/>
<polygon points="1234.9,855.9 1241.8,856.9 1241.8,853.9 1234.9,854.9" fill="#000"/>
<polygon points="1234.5,855.6 1237.1,862.1 1239.6,860.6 1235.3,855.2" fill="#000"/>
<polygon points="1234.5,855.2 1230.2,860.6 1232.7,862.1 1235.3,855.6" fill="#000"/>
<polygon points="1234.9,854.9 1228.0,853.9 1228.0,856.9 1234.9,855.9" fill="#000"/>
<polygon points="1235.3,855.2 1232.7,848.7 1230.2,850.2 1234.5,855.6" fill="#000"/>
<polygon points="1235.3,855.6 1239.6,850.2 1237.1,848.7 1234.5,855.2" fill="#000"/>
<polygon points="1380.6,907.4 1387.5,908.4 1387.5,905.4 1380.6,906.4" fill="#000"/>
<polygon points="1380.2,907.1 1382.8,913.6 1385.3,912.1 1381.0,906.7" fill="#000"/>
<polygon points="1380.2,906.7 1375.9,912.1 1378.4,913.6 1381.0,907.1" fill="#000"/>
<polygon points="1380.6,906.4 1373.7,905.4 1373.7,908.4 1380.6,907.4" fill="#000"/>
<polygon points="1381.0,906.7 1378.4,900.2 1375.9,901.7 1380.2,907.1" fill="#000"/>
<polygon points="1381.0,907.1 1385.3,901.7 1382.8,900.2 1380.2,906.7" fill="#000"/>
<polygon points="1396.6,907.4 1403.5,908.4 1403.5,905.4 1396.6,906.4" fill="#000"/>
<polygon points="1396.2,907.1 1398.8,913.6 1401.3,912.1 1397.0,906.7" fill="#000"/>
<polygon points="1396.2,906.7 1391.9,912.1 1394.4,913.6 1397.0,907.1" fill="#000"/>
<polygon points="1396.6,906.4 1389.7,905.4 1389.7,908.4 1396.6,907.4" fill="#000"/>
<polygon points="1397.0,906.7 1394.4,900.2 1391.9,901.7 1396.2,907.1" fill="#000"/>
<polygon points="1397.0,907.1 1401.3,901.7 1398.8,900.2 1396.2,906.7" fill="#000"/>
<polygon points="1412.6,907.4 1419.5,908.4 1419.5,905.4 1412.6,906.4" fill="#000"/>
<polygon points="1412.2,907.1 1414.8,913.6 1417.3,912.1 1413.0,906.7" fill="#000"/>
<polygon points="1412.2,906.7 1407.9,912.1 1410.4,913.6 1413.0,907.1" fill="#000"/>
<polygon points="1412.6,906.4 1405.7,905.4 1405.7,908.4 1412.6,907.4" fill="#000"/>
<polygon points="1413.0,906.7 1410.4,900.2 1407.9,901.7 1412.2,907.1" fill="#000"/>
<polygon points="1413.0,907.1 1417.3,901.7 1414.8,900.2 1412.2,906.7" fill="#000"/>
<polygon points="1428.6,907.4 1435.5,908.4 1435.5,905.4 1428.6,906.4" fill="#000"/>
<polygon points="1428.2,907.1 1430.8,913.6 1433.3,912.1 1429.0,906.7" fill="#000"/>
<polygon points="1428.2,906.7 1423.9,912.1 1426.4,913.6 1429.0,907.1" fill="#000"/>
<polygon points="1428.6,906.4 1421.7,905.4 1421.7,908.4 1428.6,907.4" fill="#000"/>
<polygon points="1429.0,906.7 1426.4,900.2 1423.9,901.7 1428.2,907.1" fill="#000"/>
<polygon points="1429.0,907.1 1433.3,901.7 1430.8,900.2 1428.2,906.7" fill="#000"/>
<text x="829.0" y="1204.5" font-size="37" text-anchor="end" fill="#000" transform="rotate(-45 829.0 1204.5)">DNAJB1</text>
<text x="1025.5" y="1204.5" font-size="37" text-anchor="end" fill="#000" transform="rotate(-45 1025.5 1204.5)">MTA2</text>
<text x="1222.0" y="1204.5" font-size="37" text-anchor="end" fill="#000" transform="rotate(-45 1222.0 1204.5)">LCMT1</text>
<text x="1418.0" y="1204.5" font-size="37" text-anchor="end" fill="#000" transform="rotate(-45 1418.0 1204.5)">SCAP</text>
</svg></body></html>
